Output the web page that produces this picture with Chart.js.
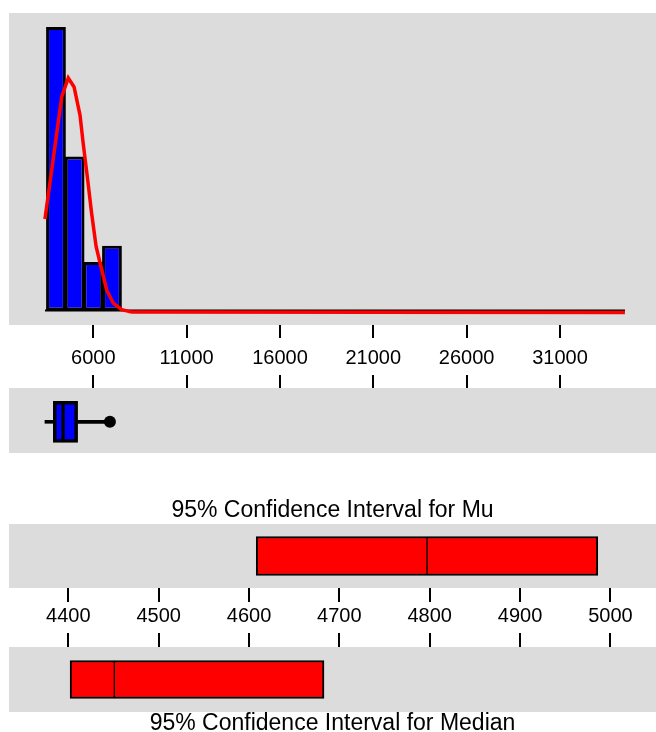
<!DOCTYPE html>
<html>
<head>
<meta charset="utf-8">
<script src="https://cdn.jsdelivr.net/npm/chart.js@4.4.0/dist/chart.umd.min.js"></script>
<style>
  body { margin: 0; background: #fff; }
  .panel { position: absolute; left: 0; }
  .panel canvas { display: block; }
</style>
</head>
<body>
<div class="panel" style="top:0px"><canvas id="hist" width="656" height="388"></canvas></div>
<div class="panel" style="top:375px"><canvas id="box" width="656" height="78"></canvas></div>
<div class="panel" style="top:499px"><canvas id="mu" width="656" height="131"></canvas></div>
<div class="panel" style="top:633px"><canvas id="median" width="656" height="102"></canvas></div>
<script>
// histogram (bin centres, counts) and fitted normal curve
const binCenters = [4000, 5000, 6000, 7000];
const binCounts = [35, 19, 6, 8];
const fitX = [3410, 4310, 4660, 4970, 5290, 5460, 5680, 5910, 6150, 6360, 6720, 7070, 7520, 8060, 34480];
const fitY = [11.3, 26.4, 28.7, 27.6, 24.1, 20.6, 16.5, 12.0, 7.9, 5.9, 2.5, 0.9, 0.1, -0.2, -0.25];
const dataExtent = [3410, 34480];
const histTicks = [6000, 11000, 16000, 21000, 26000, 31000];

// boxplot
const whiskers = [3410, 6890];
const quartiles = [3860, 5160];
const boxMedian = 4380;
const outliers = [6890];

// confidence intervals
const muInterval = [4608, 4986];
const muMean = 4797;
const medianInterval = [4402, 4683];
const medianValue = 4451;
const ciTicks = [4400, 4500, 4600, 4700, 4800, 4900, 5000];

// axis windows (the grey panels span these)
const histRange = [1484, 36144];
const countRange = [-1.79, 36.73];
const ciRange = [4334.4, 5050.4];

const FONT = "'Liberation Sans', Arial, Helvetica, sans-serif";
const GREY = '#dcdcdc';

const panelFill = {
    id: 'panelFill',
    beforeDraw(chart) {
        const a = chart.chartArea;
        const ctx = chart.ctx;
        ctx.save();
        ctx.fillStyle = GREY;
        ctx.fillRect(a.left, a.top, a.right - a.left, a.bottom - a.top);
        ctx.restore();
    }
};

function valueAxis(range, ticks, opts) {
    return {
        type: 'linear',
        position: opts.position,
        min: range[0],
        max: range[1],
        offset: false,
        border: { display: false },
        grid: {
            drawOnChartArea: false,
            drawTicks: true,
            tickLength: opts.tickLength,
            color: '#000',
            lineWidth: 2,
            offset: false
        },
        ticks: {
            display: opts.labels,
            color: '#000',
            padding: opts.padding || 0,
            maxRotation: 0,
            autoSkip: false,
            font: { family: FONT, size: 20 },
            callback: v => String(v)
        },
        afterBuildTicks: s => { s.ticks = ticks.map(v => ({ value: v })); },
        afterFit: s => { s.height = opts.height; }
    };
}

const hiddenRow = { type: 'linear', display: false, min: 0, max: 1 };

const baseOptions = {
    responsive: false,
    animation: false,
    devicePixelRatio: 1,
    events: [],
    plugins: { legend: { display: false }, tooltip: { enabled: false }, title: { display: false } }
};

// --- histogram with fitted curve ---
new Chart(document.getElementById('hist'), {
    type: 'bar',
    data: {
        datasets: [
            {
                type: 'line',
                data: fitX.map((x, i) => ({ x: x, y: fitY[i] })),
                borderColor: '#ff0000',
                borderWidth: 3.5,
                pointRadius: 0,
                tension: 0
            },
            {
                type: 'line',
                data: dataExtent.map(x => ({ x: x, y: 0 })),
                borderColor: '#000',
                borderWidth: 2,
                pointRadius: 0
            },
            {
                type: 'bar',
                data: binCenters.map((x, i) => ({ x: x, y: binCounts[i] })),
                backgroundColor: '#0000ff',
                borderColor: '#000',
                borderWidth: 3,
                borderSkipped: false,
                barPercentage: 1.06,
                categoryPercentage: 1
            }
        ]
    },
    options: Object.assign({}, baseOptions, {
        layout: { autoPadding: false, padding: { left: 9, top: 13, right: 0, bottom: 0 } },
        scales: {
            x: valueAxis(histRange, histTicks, { position: 'bottom', tickLength: 13, labels: true, padding: 8, height: 63 }),
            y: { type: 'linear', display: false, min: countRange[0], max: countRange[1] }
        }
    }),
    plugins: [panelFill]
});

// --- boxplot ---
const boxRow = 0.47;
new Chart(document.getElementById('box'), {
    type: 'bar',
    data: {
        datasets: [
            {
                data: [{ x: [whiskers[0], quartiles[0]], y: boxRow }, { x: [quartiles[1], whiskers[1]], y: boxRow }],
                backgroundColor: '#000',
                borderWidth: 0,
                barThickness: 3
            },
            {
                data: [{ x: [quartiles[0], boxMedian], y: boxRow }],
                backgroundColor: '#0000ff',
                borderColor: '#000',
                borderWidth: { left: 3.5, top: 3.5, bottom: 3.5, right: 2 },
                borderSkipped: false,
                barThickness: 41
            },
            {
                data: [{ x: [boxMedian, quartiles[1]], y: boxRow }],
                backgroundColor: '#0000ff',
                borderColor: '#000',
                borderWidth: { left: 2, top: 3.5, bottom: 3.5, right: 3.5 },
                borderSkipped: false,
                barThickness: 41
            },
            {
                type: 'scatter',
                data: outliers.map(x => ({ x: x, y: boxRow })),
                pointRadius: 6,
                pointBackgroundColor: '#000',
                pointBorderWidth: 0
            }
        ]
    },
    options: Object.assign({}, baseOptions, {
        indexAxis: 'y',
        datasets: { bar: { grouped: false } },
        layout: { autoPadding: false, padding: { left: 9, top: 0, right: 0, bottom: 0 } },
        scales: {
            x: valueAxis(histRange, histTicks, { position: 'top', tickLength: 13, labels: false, height: 13 }),
            y: hiddenRow
        }
    }),
    plugins: [panelFill]
});

// --- confidence interval rows ---
function intervalChart(id, interval, centre, title, titlePos, axisPos, thickness) {
    const top = axisPos === 'top';
    return new Chart(document.getElementById(id), {
        type: 'bar',
        data: {
            datasets: [
                {
                    data: [{ x: [interval[0], centre], y: 0.5 }],
                    backgroundColor: '#ff0000',
                    borderColor: '#000',
                    borderWidth: { left: 2, top: 2, bottom: 2, right: 1 },
                    borderSkipped: false,
                    barThickness: thickness
                },
                {
                    data: [{ x: [centre, interval[1]], y: 0.5 }],
                    backgroundColor: '#ff0000',
                    borderColor: '#000',
                    borderWidth: { left: 1, top: 2, bottom: 2, right: 2 },
                    borderSkipped: false,
                    barThickness: thickness
                }
            ]
        },
        options: Object.assign({}, baseOptions, {
            indexAxis: 'y',
            datasets: { bar: { grouped: false } },
            layout: { autoPadding: false, padding: { left: 9, top: 0, right: 0, bottom: 0 } },
            plugins: {
                legend: { display: false },
                tooltip: { enabled: false },
                title: {
                    display: true,
                    text: title,
                    position: titlePos,
                    color: '#000',
                    font: { family: FONT, size: 23, weight: 'normal', lineHeight: 1 },
                    padding: titlePos === 'top' ? { top: 0, bottom: 2 } : { top: 0, bottom: 0 }
                }
            },
            scales: {
                x: valueAxis(ciRange, ciTicks, top
                    ? { position: 'top', tickLength: 14, labels: false, height: 14 }
                    : { position: 'bottom', tickLength: 14, labels: true, padding: 2, height: 42 }),
                y: hiddenRow
            }
        }),
        plugins: [panelFill]
    });
}

intervalChart('mu', muInterval, muMean, '95% Confidence Interval for Mu', 'top', 'bottom', 39);
intervalChart('median', medianInterval, medianValue, '95% Confidence Interval for Median', 'bottom', 'top', 38);
</script>
</body>
</html>
